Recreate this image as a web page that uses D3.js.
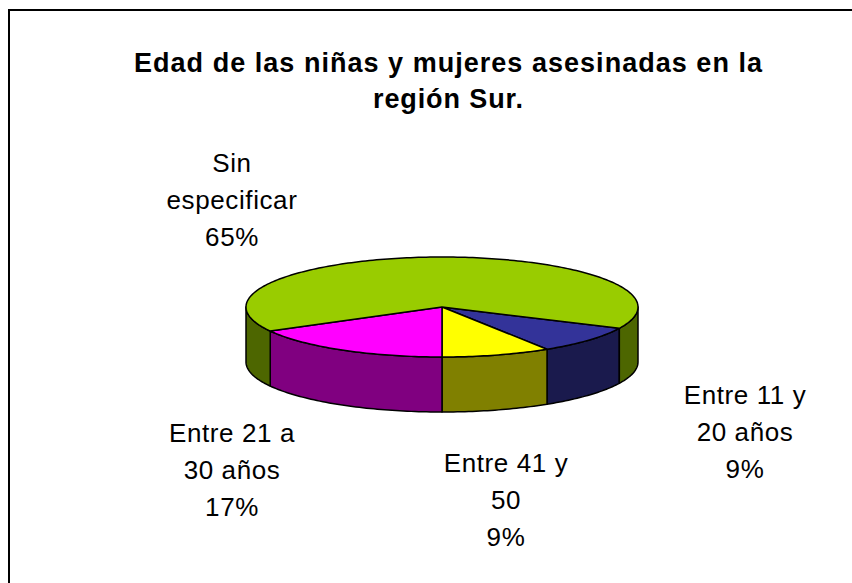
<!DOCTYPE html>
<html>
<head>
<meta charset="utf-8">
<script src="https://cdn.jsdelivr.net/npm/d3@7"></script>
<style>
  html, body { margin: 0; padding: 0; background: #fff; }
  svg { display: block; }
  text { font-family: "Liberation Sans", Arial, sans-serif; fill: #000; }
</style>
</head>
<body>
<svg id="chart" width="852" height="583"></svg>
<script>
// data
var categories = ["Entre 11 y 20 años", "Entre 41 y 50", "Entre 21 a 30 años", "Sin especificar"];
var values = [9, 9, 17, 65];
var labelLines = [
  ["Entre 11 y", "20 años", "9%"],
  ["Entre 41 y", "50", "9%"],
  ["Entre 21 a", "30 años", "17%"],
  ["Sin", "especificar", "65%"]
];
var topColors = ["#333399", "#FFFF00", "#FF00FF", "#99CC00"];
var sideColors = ["#1A1A4D", "#808000", "#800080", "#4D6600"];
var titleLines = ["Edad de las niñas y mujeres asesinadas en la", "región Sur."];

var svg = d3.select("#chart");
var W = 852, H = 583;

svg.append("rect").attr("x", 0).attr("y", 0).attr("width", W).attr("height", H).attr("fill", "#fff");
// chart frame (right and bottom edges fall outside the picture)
svg.append("rect")
  .attr("x", 9).attr("y", 10).attr("width", 1000).attr("height", 1000)
  .attr("fill", "none").attr("stroke", "#000").attr("stroke-width", 2);

// title
var titleG = svg.append("g");
var titleW = [628, 150];
titleLines.forEach(function(t, i) {
  titleG.append("text")
    .attr("x", 448).attr("y", 72 + i * 36)
    .attr("text-anchor", "middle")
    .attr("font-size", 27)
    .attr("font-weight", "bold")
    .attr("textLength", titleW[i])
    .attr("lengthAdjust", "spacing")
    .text(t);
});

// 3d pie
var cx = 442, cy = 307, rx = 196, ry = 50, depth = 55;
var startA = 2 * Math.PI * 0.32;

var pie = d3.pie().sort(null).value(function(d) { return d; })
  .startAngle(startA).endAngle(startA + 2 * Math.PI);
var arcs = pie(values);

function px(a) { return cx + rx * Math.sin(a); }
function py(a) { return cy - ry * Math.cos(a); }

function arcPts(a0, a1, dy) {
  var n = Math.max(2, Math.ceil(Math.abs(a1 - a0) / 0.02));
  return d3.range(n + 1).map(function(i) {
    var a = a0 + (a1 - a0) * i / n;
    return [px(a), py(a) + dy];
  });
}

var line = d3.line();
var pieG = svg.append("g");

// front walls
arcs.forEach(function(d, i) {
  [-1, 0, 1].forEach(function(k) {
    var lo = Math.PI / 2 + k * 2 * Math.PI, hi = 3 * Math.PI / 2 + k * 2 * Math.PI;
    var s = Math.max(d.startAngle, lo), e = Math.min(d.endAngle, hi);
    if (e - s > 1e-4) {
      var pts = arcPts(s, e, 0).concat(arcPts(e, s, depth));
      pieG.append("path")
        .attr("d", line(pts) + "Z")
        .attr("fill", sideColors[i])
        .attr("stroke", "#000").attr("stroke-width", 1.5)
        .attr("stroke-linejoin", "round");
    }
  });
});

// top faces
arcs.forEach(function(d, i) {
  var pts = [[cx, cy]].concat(arcPts(d.startAngle, d.endAngle, 0));
  pieG.append("path")
    .attr("d", line(pts) + "Z")
    .attr("fill", topColors[i])
    .attr("stroke", "#000").attr("stroke-width", 1.5)
    .attr("stroke-linejoin", "round");
});

// data labels
var labelPos = [[745, 404], [506, 472], [232, 442], [232, 172]];
labelLines.forEach(function(lines, i) {
  var t = svg.append("text")
    .attr("text-anchor", "middle")
    .attr("font-size", 26)
    .attr("letter-spacing", "0.6px");
  lines.forEach(function(l, j) {
    t.append("tspan")
      .attr("x", labelPos[i][0]).attr("y", labelPos[i][1] + j * 36.8)
      .text(l);
  });
});
</script>
</body>
</html>
